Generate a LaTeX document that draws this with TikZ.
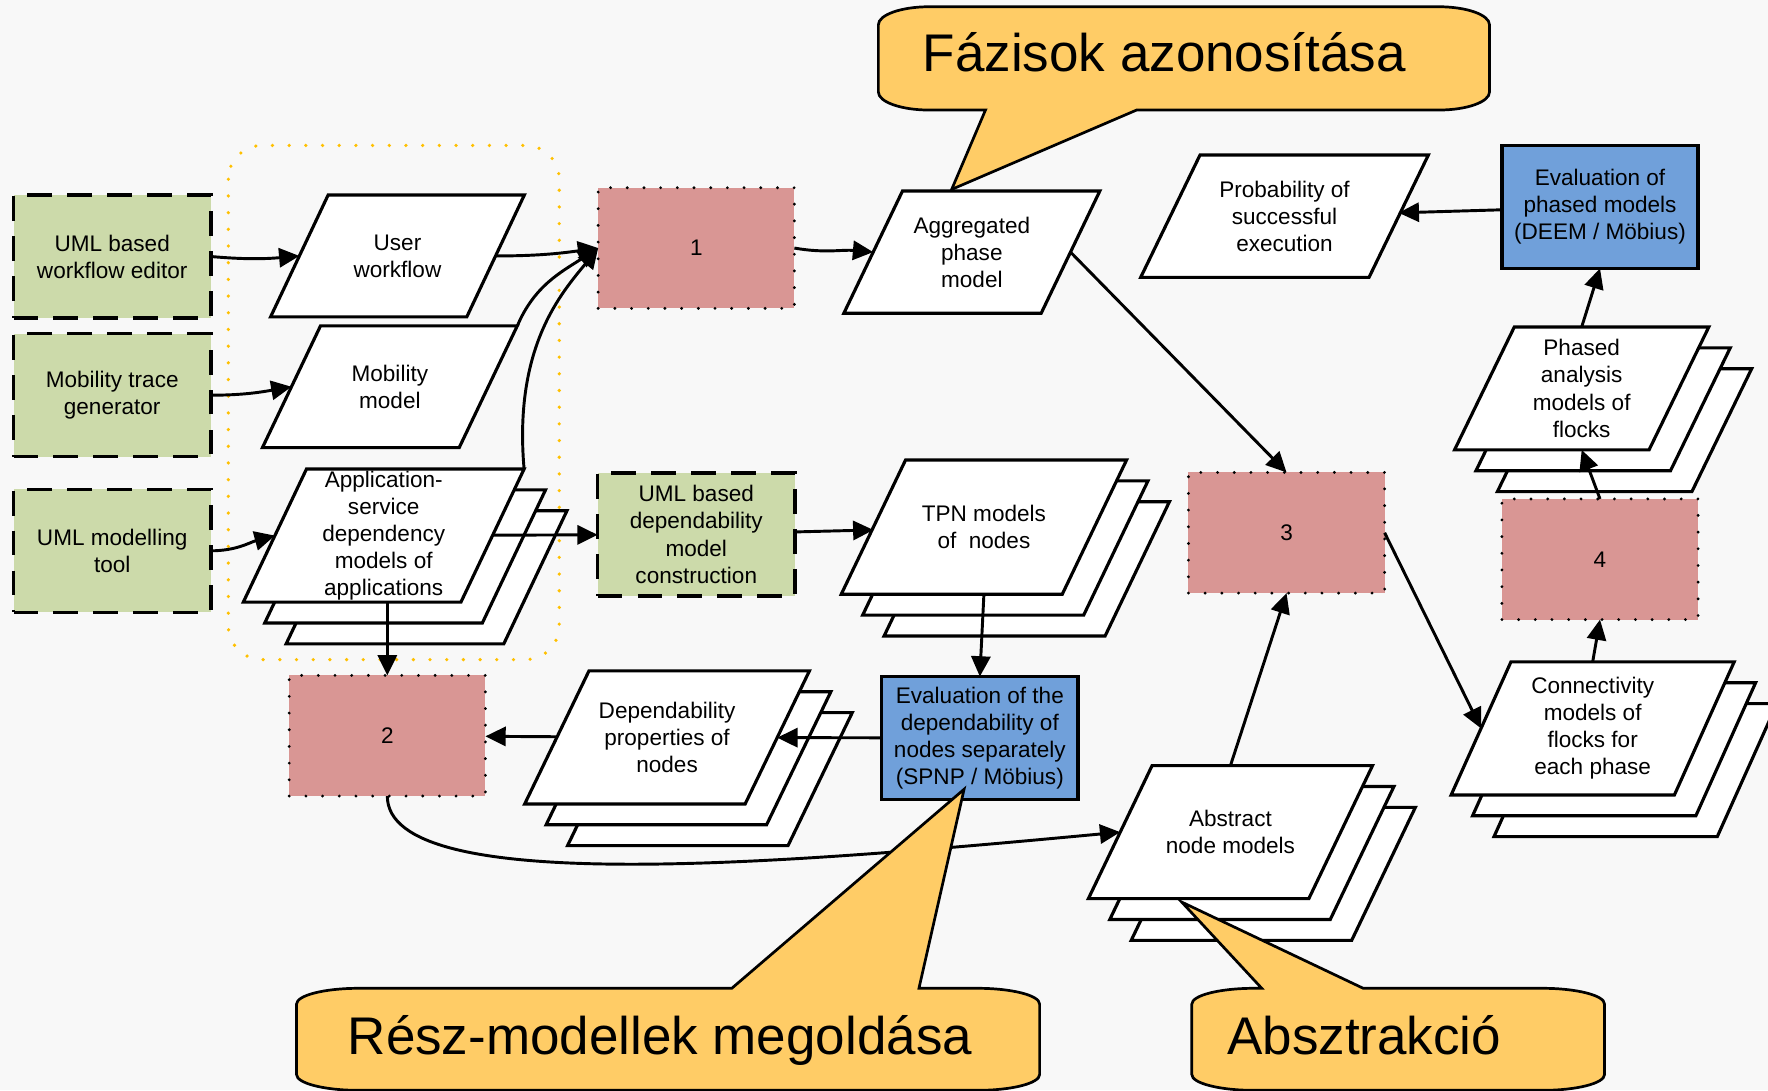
\documentclass[tikz,border=0pt]{standalone}
\usepackage{fontspec}
\setmainfont{Liberation Sans}
\usepackage{tikz}
\usetikzlibrary{arrows.meta}
\definecolor{fond}{RGB}{248,248,248}
\definecolor{vert}{RGB}{204,218,170}
\definecolor{rose}{RGB}{217,150,148}
\definecolor{bleu}{RGB}{112,160,218}
\definecolor{bulleor}{RGB}{255,204,102}
\definecolor{pointille}{RGB}{255,192,0}

% parallelogramme : nom, centre, largeur, hauteur, decalage, texte
\newcommand{\donnee}[6]{%
  \draw[flux, shift={#2}] (-#3/2+#5/2,#4/2) -- (#3/2+#5/2,#4/2)
      -- (#3/2-#5/2,-#4/2) -- (-#3/2-#5/2,-#4/2) -- cycle;
  \node[texte, minimum width=#3*0.5pt, minimum height=#4*0.5pt] (#1) at #2 {#6};
}
% pile de trois parallelogrammes
\newcommand{\pile}[6]{%
  \foreach \copie in {2,1}
    \draw[flux, shift={#2}, shift={(\copie*19,-\copie*18.5)}] (-#3/2+#5/2,#4/2) -- (#3/2+#5/2,#4/2)
      -- (#3/2-#5/2,-#4/2) -- (-#3/2-#5/2,-#4/2) -- cycle;
  \donnee{#1}{#2}{#3}{#4}{#5}{#6}
}

\begin{document}
\begin{tikzpicture}[x=0.5pt, y=0.5pt,
  flux/.style={draw=black, line width=1.4pt, fill=white},
  texte/.style={inner sep=0.5pt, outer sep=0pt, align=center, font=\fontsize{10}{12}\selectfont},
  outil/.style={texte, draw=black, fill=vert, line width=1.5pt, dash pattern=on 11pt off 6.7pt, minimum width=87.5pt, minimum height=54.5pt},
  etape/.style={texte, draw=black, fill=rose, line width=1.4pt, line cap=round, dash pattern=on 0pt off 7.4pt, minimum width=87pt, minimum height=53.5pt},
  calcul/.style={texte, draw=black, fill=bleu, line width=1.5pt, minimum width=87pt, minimum height=54.5pt},
  fleche/.style={-{Triangle[length=9pt,width=8.5pt]}, line width=1.3pt},
  bulle/.style={draw=black, fill=bulleor, line width=1.2pt},
  grand/.style={font=\fontsize{23.5}{28}\selectfont, inner sep=0pt, anchor=base west}]

% Fond
\fill[fond] (0,0) rectangle (1568,-967);
\useasboundingbox (0,0) rectangle (1568,-967);

% Cadre pointille
\draw[pointille, line width=1.6pt, line cap=round, dash pattern=on 0pt off 7.4pt, rounded corners=15pt]
    (202.5,-129) rectangle (496,-585);

% Outils
\node[outil] (editeur) at (99.5,-227.5) {UML based\\workflow editor};
\node[outil] (trace) at (99.5,-350.5) {Mobility trace\\generator};
\node[outil] (modeleur) at (99.5,-488.5) {UML modelling\\tool};
\node[outil] (constr) at (617.5,-474) {UML based\\dependability\\model\\construction};

% Etapes
\node[etape] (e1) at (617.5,-220) {1};
\node[etape] (e2) at (343.5,-652.5) {2};
\node[etape] (e3) at (1141,-472.5) {3};
\node[etape] (e4) at (1419,-496) {4};

% Evaluations
\node[calcul] (evalphase) at (1419,-183.5) {Evaluation of\\phased models\\(DEEM / Möbius)};
\node[calcul] (evalnoeud) at (869,-654.5) {Evaluation of the\\dependability of\\nodes separately\\(SPNP / Möbius)};

% Modeles
\donnee{workflow}{(352.5,-227)}{174}{108}{51}{User\\workflow}
\donnee{mobilite}{(345.75,-343)}{174.5}{108}{51.5}{Mobility\\model}
\pile{appli}{(340.3,-475)}{193}{118}{56}{Application-\\service\\dependency\\models of\\applications}
\donnee{agrege}{(861.9,-223.6)}{175}{108.4}{52}{Aggregated\\phase\\model}
\donnee{proba}{(1139.2,-191.75)}{202.5}{108.5}{52.6}{Probability of\\successful\\execution}
\pile{tpn}{(872.6,-467.5)}{196}{119}{57}{TPN models\\of~~nodes}
\pile{dep}{(591.6,-654)}{195.5}{118}{57}{Dependability\\properties of\\nodes}
\pile{abstrait}{(1091.25,-738)}{195.5}{118}{56.5}{Abstract\\node models}
\pile{phases}{(1402.75,-344.5)}{172.5}{109}{53}{Phased\\analysis\\models of\\flocks}
\pile{connex}{(1412.5,-646)}{198}{118}{53}{Connectivity\\models of\\flocks for\\each phase}

% Fleches
\draw[fleche] (editeur.east) to[out=-5, in=185] (workflow.west);
\draw[fleche] (trace.east) to[out=0, in=190] (mobilite.west);
\draw[fleche] (modeleur.east) to[out=0, in=195] (appli.west);
\draw[fleche] (workflow.east) to[out=0, in=188] (e1.west);
\draw[fleche] ([xshift=12.9pt]mobilite.north east) to[out=67, in=213] (e1.west);
\draw[fleche] ([xshift=14pt]appli.north east) .. controls +(95:110) and +(231:50) .. (e1.west);
\draw[fleche] (appli) -- (constr);
\draw[fleche] (e1.east) to[out=-10, in=175] (agrege.west);
\draw[fleche] (agrege.east) -- (e3.north);
\draw[fleche] (constr) -- (tpn);
\draw[fleche] (tpn.south) -- (evalnoeud.north);
\draw[fleche] (evalnoeud) -- (dep);
\draw[fleche] (dep) -- (e2);
\draw[fleche] (appli.south -| e2.north) -- (e2.north);
\draw[fleche] (e2.south) .. controls +(0,-90) and +(-299,-28) .. (abstrait.west);
\draw[fleche] (abstrait.north) -- (e3.south);
\draw[fleche] (e3.east) -- (connex.west);
\draw[fleche] (connex.north) -- (e4.south);
\draw[fleche] (e4.north) -- (phases.south);
\draw[fleche] (phases.north) -- (evalphase.south);
\draw[fleche] (evalphase) -- (proba);

% Bulles
\draw[bulle] (824,-6) -- (1276,-6) arc[start angle=90, end angle=0, x radius=22.5pt, y radius=8pt]
    -- (1321,-81.6) arc[start angle=0, end angle=-90, x radius=22.5pt, y radius=8pt]
    -- (1008,-97.6) -- (844,-168) -- (874,-97.6) -- (824,-97.6)
    arc[start angle=270, end angle=180, x radius=22.5pt, y radius=8pt]
    -- (779,-22) arc[start angle=180, end angle=90, x radius=22.5pt, y radius=8pt] -- cycle;
\node[grand] (fazis) at (818,-63.6) {Fázisok azonosítása};

\draw[bulle] (318,-876.5) -- (649,-876.5) -- (855,-700) -- (815,-876.5) -- (867,-876.5)
    arc[start angle=90, end angle=0, x radius=27.5pt, y radius=7pt] -- (922,-953)
    arc[start angle=0, end angle=-90, x radius=27.5pt, y radius=7pt] -- (318,-967)
    arc[start angle=270, end angle=180, x radius=27.5pt, y radius=7pt] -- (263,-890.5)
    arc[start angle=180, end angle=90, x radius=27.5pt, y radius=7pt] -- cycle;
\node[grand] (resz) at (308,-935.6) {Rész-modellek megoldása};

\draw[bulle] (1112,-876.5) -- (1119,-876.5) -- (1048,-800) -- (1209,-876.5) -- (1368,-876.5)
    arc[start angle=90, end angle=0, x radius=27.5pt, y radius=7pt] -- (1423,-953)
    arc[start angle=0, end angle=-90, x radius=27.5pt, y radius=7pt] -- (1112,-967)
    arc[start angle=270, end angle=180, x radius=27.5pt, y radius=7pt] -- (1057,-890.5)
    arc[start angle=180, end angle=90, x radius=27.5pt, y radius=7pt] -- cycle;
\node[grand] (abszt) at (1088,-935.6) {Absztrakció};

\end{tikzpicture}
\end{document}
